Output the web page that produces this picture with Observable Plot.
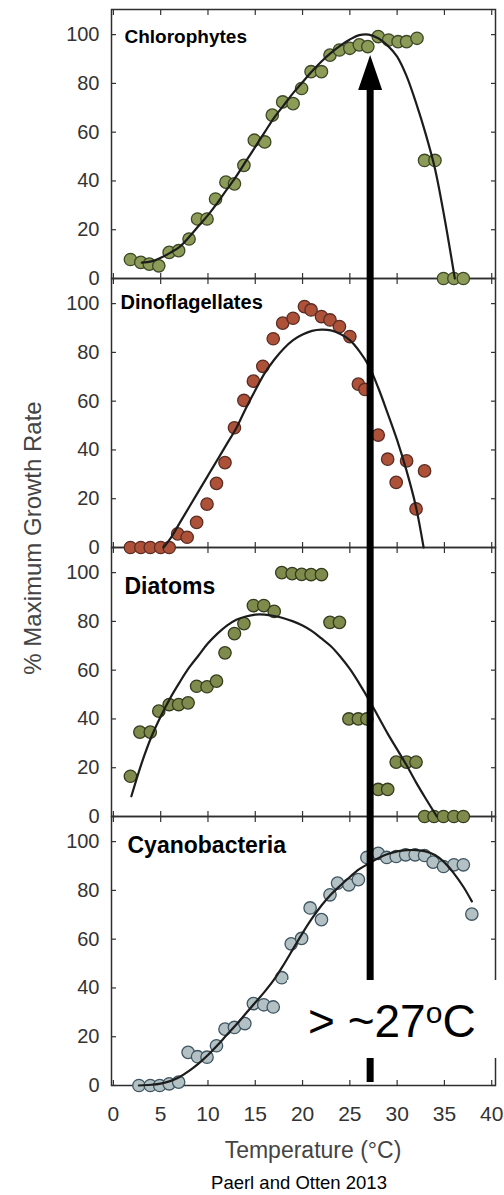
<!DOCTYPE html>
<html>
<head>
<meta charset="utf-8">
<script src="https://cdn.jsdelivr.net/npm/d3@7"></script>
<script src="https://cdn.jsdelivr.net/npm/@observablehq/plot@0.6"></script>
<style>
  body { margin: 0; background: #fff; font-family: "Liberation Sans", Arial, sans-serif; }
  #chart svg { display: block; }
  #caption { margin-left: 94px; width: 410px; text-align: center; font-size: 18.5px; color: #000; line-height: 22px; }
</style>
</head>
<body>
<div id="chart"></div>
<div id="caption">Paerl and Otten 2013</div>
<script>
// ---- categories & ticks ----
const panels = ["Chlorophytes", "Dinoflagellates", "Diatoms", "Cyanobacteria"];
const xTicks = [0, 5, 10, 15, 20, 25, 30, 35, 40];
const yTicks = [0, 20, 40, 60, 80, 100];
const thresholdTemp = 27.2;

// ---- Chlorophytes ----
const chloroTemp   = [1.8,2.9,3.8,4.8,5.9,6.9,8.0,8.9,9.9,10.8,11.9,12.8,13.8,14.9,16.0,16.8,17.9,19.0,19.9,20.9,22.0,22.9,23.9,25.0,26.0,26.9,28.0,29.1,30.1,31.0,32.1,32.9,34.0,34.9,36.0,37.0];
const chloroGrowth = [7.8,6.6,5.9,5.2,10.7,11.4,16.2,24.4,24.4,32.6,39.5,38.8,46.4,56.7,56.0,67.0,72.4,71.7,77.9,84.8,84.8,91.6,93.7,94.4,95.8,95.1,99.2,97.8,97.1,97.1,98.5,48.4,48.4,0,0,0];
const chloroFitTemp   = [3,4,5,6,7,8,9,10,11,12,13,14,15,16,17,18,19,20,21,22,23,24,25,26,27,28,29,30,31,32,33,34,35,36.1];
const chloroFitGrowth = [6.5,7,8.5,10.5,13,17,21.5,26,31,36.5,42,48,54,60,66,71,76,80.5,85,89,92.5,95.5,98,99.8,100,98.5,95.5,91,83,72,59.5,45,25,0];

// ---- Dinoflagellates ----
const dinoTemp   = [1.8,2.9,3.9,5.0,5.9,6.8,7.8,8.8,9.9,10.9,11.8,12.8,13.8,14.8,15.8,16.9,17.9,19.0,20.2,20.9,22.0,22.9,23.9,25.0,25.9,26.6,28.0,29.0,29.9,31.0,32.0,32.9];
const dinoGrowth = [0,0,0,0,0,5.6,4.2,10.3,17.8,26.3,34.8,49.1,60.3,68.2,74.3,85.6,92,94,98.8,97.4,94.7,93.3,90.6,86.5,67,64.8,46.1,36.2,26.7,35.5,15.8,31.4];
const dinoFitTemp   = [5.3,6,7,8,9,10,11,12,13,14,15,16,17,18,19,20,21,22,23,24,25,26,27,28,29,30,31,32,32.8];
const dinoFitGrowth = [0,3.5,10,16.5,23,29.5,36,42.5,49,57,64.5,71.5,77,81.5,85,87.3,88.8,89.3,89,87.5,85,80.5,74.5,65.5,55,44,31.4,16.5,0];

// ---- Diatoms ----
const diatomTemp   = [1.8,2.8,3.9,4.8,5.9,6.9,7.9,8.8,9.9,10.9,11.8,12.8,13.8,14.8,15.9,17.0,17.8,18.9,19.9,20.9,22.0,22.9,23.9,24.9,25.9,26.8,28.0,29.0,29.9,31.0,32.0,32.9,33.9,34.9,36.0,37.0];
const diatomGrowth = [16.5,34.6,34.6,43.2,45.9,45.9,46.6,53.4,53.2,55.5,67.1,75,79.1,86.5,86.5,84.1,100,99.6,99.3,99.2,99.2,79.6,79.6,40,40,40,11.1,11.1,22.3,22.3,22.3,0,0,0,0,0];
const diatomFitTemp   = [1.9,3,4,5,6,7,8,9,10,11,12,13,14,15,16,17,18,19,20,21,22,23,24,25,26,27,28,29,30,31,32,33,34.2];
const diatomFitGrowth = [8.3,22,32.5,41,48.5,55,61,66,71,75,78.3,80.7,82,82.8,82.8,82.2,81.3,80,78.3,76,73,69.8,65.5,60.5,54.5,48,41,34,27.5,21,14,7.5,0];

// ---- Cyanobacteria ----
const cyanoTemp   = [2.7,3.9,4.9,5.9,6.9,7.9,8.9,9.9,10.9,11.8,12.8,13.9,14.8,15.9,16.9,17.8,18.8,19.9,20.8,22.0,22.9,23.7,24.9,25.9,26.8,28.0,28.9,29.9,30.9,31.9,32.9,33.8,34.9,36.0,37.0,37.9];
const cyanoGrowth = [0,0,0,0.7,1.4,13.6,11.8,11.6,16.3,23.1,23.8,25.4,33.6,33.1,32.2,44.2,58.1,60.3,72.8,68,78.2,83,82.3,84.4,93.5,95.2,93.5,93.9,94.6,94.6,94.3,91.6,89.8,90.5,90.5,70.3];
const cyanoFitTemp   = [2.7,4,5,6,7,8,9,10,11,12,13,14,15,16,17,18,19,20,21,22,23,24,25,26,27,28,29,30,31,32,33,34,35,36,37,37.9];
const cyanoFitGrowth = [0,0.3,0.8,1.8,3.5,6,9,12.5,16.5,20.8,25,29.5,34,38.5,43.5,49.5,56,62.5,68.5,73.8,78.3,82,85.5,88.7,91,93.2,94.9,96,96.5,96.5,96,94.5,91.5,87,81.5,75.5];

// ---- tables built from the arrays ----
const series = {
  Chlorophytes:    [chloroTemp, chloroGrowth, chloroFitTemp, chloroFitGrowth],
  Dinoflagellates: [dinoTemp, dinoGrowth, dinoFitTemp, dinoFitGrowth],
  Diatoms:         [diatomTemp, diatomGrowth, diatomFitTemp, diatomFitGrowth],
  Cyanobacteria:   [cyanoTemp, cyanoGrowth, cyanoFitTemp, cyanoFitGrowth]
};
const dots = panels.flatMap(p => series[p][0].map((t, i) => ({panel: p, t, v: series[p][1][i]})));
const fits = panels.flatMap(p => series[p][2].map((t, i) => ({panel: p, t, v: series[p][3][i]})));

// ---- styles (kept apart from data) ----
const look = {
  Chlorophytes:    {fill: "#8c9b57", stroke: "#3c4826", dx: 13, dy: 20, size: 19},
  Dinoflagellates: {fill: "#ad5239", stroke: "#5b2c24", dx: 9,  dy: 16, size: 20},
  Diatoms:         {fill: "#7f8b4c", stroke: "#353c1e", dx: 13, dy: 30, size: 23},
  Cyanobacteria:   {fill: "#b3c0c4", stroke: "#3f5662", dx: 16, dy: 20, size: 23}
};

const FONT = '"Liberation Sans", Arial, sans-serif';
const tickStyle = {stroke: "#333", strokeWidth: 1.2, label: null, tickFormat: () => ""};

const plot = Plot.plot({
  width: 504,
  height: 1172,
  marginTop: 8,
  marginRight: 9,
  marginBottom: 86,
  marginLeft: 111,
  x: {domain: [-0.2, 40.4]},
  y: {domain: [0, 110.3]},
  fy: {domain: panels, padding: 0, axis: null, label: null},
  style: {fontFamily: FONT, background: "#fff", overflow: "visible"},
  marks: [
    Plot.frame({stroke: "#2e2e2e", strokeWidth: 1.5}),
    Plot.axisX({anchor: "bottom", ticks: xTicks, tickSize: -5, facetAnchor: null, ...tickStyle}),
    Plot.axisX({anchor: "top", ticks: xTicks, tickSize: -5, facetAnchor: null, ...tickStyle}),
    Plot.axisY({anchor: "left", ticks: yTicks, tickSize: -5, ...tickStyle}),
    Plot.axisY({anchor: "right", ticks: yTicks, tickSize: -5, ...tickStyle}),
    Plot.axisX({anchor: "bottom", ticks: xTicks, tickSize: 0, tickPadding: 21, fontSize: 21, fill: "#333", label: null}),
    Plot.axisY({anchor: "left", ticks: yTicks, tickSize: 0, tickPadding: 12, fontSize: 20, fill: "#333", label: null}),
    ...panels.map(p => Plot.dot(dots.filter(d => d.panel === p), {
      x: "t", y: "v", fy: "panel", r: 6.2,
      fill: look[p].fill, stroke: look[p].stroke, strokeWidth: 1.3
    })),
    Plot.line(fits, {x: "t", y: "v", fy: "panel", z: "panel", curve: "catmull-rom", stroke: "#1c1c1c", strokeWidth: 2.2}),
    ...panels.map(p => Plot.text([p], {
      fy: d => d, text: d => d, ariaLabel: "panel label",
      frameAnchor: "top-left", lineAnchor: "top", textAnchor: "start",
      dx: look[p].dx, dy: look[p].dy, fontSize: look[p].size, fontWeight: "bold", fill: "#000"
    }))
  ]
});

document.getElementById("chart").appendChild(plot);
const svg = d3.select(plot);

// white boxes behind panel labels (they cover points/lines as in the original)
plot.querySelectorAll('g[aria-label="panel label"] text').forEach(t => {
  const b = t.getBoundingClientRect();
  const parent = t.parentNode;
  const m = parent.getScreenCTM().inverse();
  const p = plot.createSVGPoint();
  p.x = 112.5; p.y = b.top - 9;
  const q = p.matrixTransform(m);
  const r = document.createElementNS("http://www.w3.org/2000/svg", "rect");
  r.setAttribute("x", q.x);
  r.setAttribute("y", q.y);
  r.setAttribute("width", b.right + 40 - 112.5);
  r.setAttribute("height", b.height + 14);
  r.setAttribute("fill", "#fff");
  parent.insertBefore(r, t);
});

// threshold arrow and label
const ax = plot.scale("x").apply(thresholdTemp);
const ann = svg.append("g").attr("text-anchor", "start");
ann.append("line").attr("x1", ax).attr("x2", ax).attr("y1", 1082).attr("y2", 88)
  .attr("stroke", "#000").attr("stroke-width", 7);
ann.append("path").attr("d", `M${ax},55L${ax - 12},90L${ax + 12},90Z`).attr("fill", "#000");
ann.append("rect").attr("x", 287).attr("y", 980).attr("width", 213).attr("height", 78).attr("fill", "#fff");
const tl = ann.append("text").attr("x", 308).attr("y", 1037).attr("font-size", 46)
  .attr("text-anchor", "start").attr("font-family", FONT).attr("fill", "#000");
tl.append("tspan").text("> ~27");
tl.append("tspan").attr("font-size", 30).attr("dy", -14).text("o");
tl.append("tspan").attr("font-size", 46).attr("dy", 14).text("C");

// axis titles
svg.append("text").attr("transform", "translate(41,538) rotate(-90)")
  .attr("text-anchor", "middle").attr("font-size", 24).attr("fill", "#444")
  .attr("font-family", FONT)
  .text("% Maximum Growth Rate");
svg.append("text").attr("x", 313).attr("y", 1158)
  .attr("text-anchor", "middle").attr("font-size", 23).attr("fill", "#444")
  .attr("font-family", FONT)
  .text("Temperature (°C)");
</script>
</body>
</html>
